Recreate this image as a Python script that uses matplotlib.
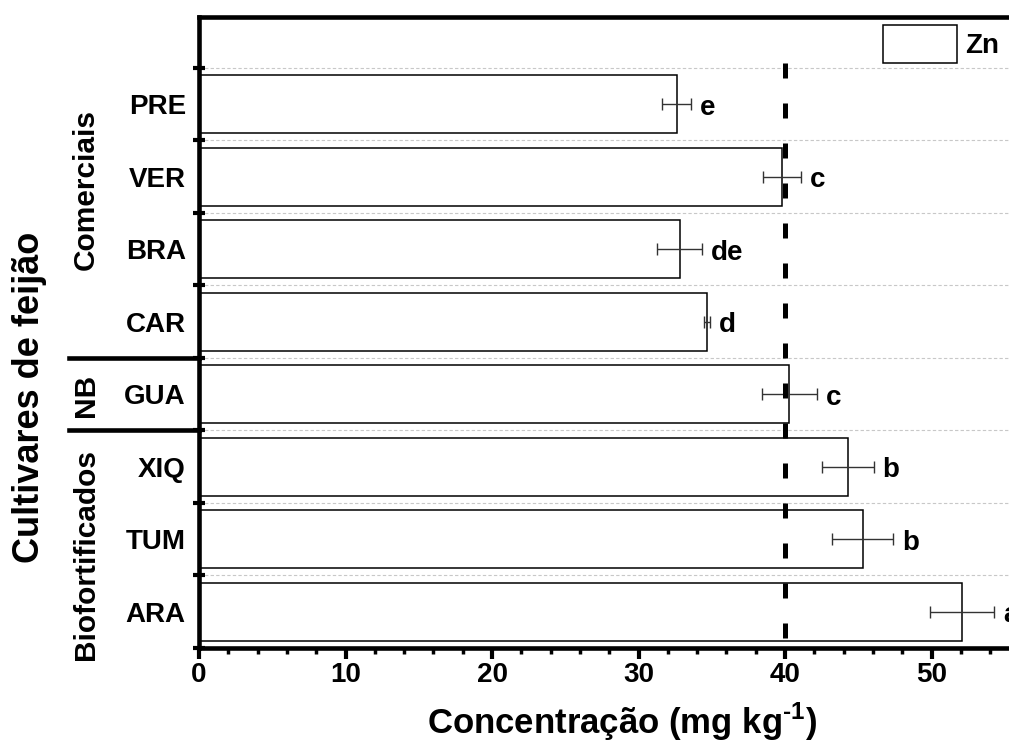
import matplotlib
matplotlib.use('Agg')
import matplotlib.pyplot as plt
from matplotlib.patches import Patch
from matplotlib.ticker import MultipleLocator, FixedLocator
import matplotlib.transforms as mtransforms
import numpy as np

plt.rcParams['font.family'] = ['Liberation Sans', 'DejaVu Sans']
plt.rcParams['font.weight'] = 'bold'
plt.rcParams['mathtext.fontset'] = 'custom'
plt.rcParams['mathtext.rm'] = 'Liberation Sans:bold'
plt.rcParams['mathtext.bf'] = 'Liberation Sans:bold'

# data (bottom to top)
cultivars = ['ARA', 'TUM', 'XIQ', 'GUA', 'CAR', 'BRA', 'VER', 'PRE']
zn_mean = [52.1, 45.3, 44.3, 40.3, 34.7, 32.8, 39.8, 32.6]
zn_err = [2.2, 2.1, 1.8, 1.9, 0.2, 1.55, 1.3, 1.0]
letters = ['a', 'b', 'b', 'c', 'd', 'de', 'c', 'e']
group_names = ['Comerciais', 'NB', 'Biofortificados']
group_bounds = [3.5, 2.5]
x_ticks = [0, 10, 20, 30, 40, 50]
reference_value = 40

W, H = 1009, 753
fig = plt.figure(figsize=(W / 100, H / 100), dpi=100)
ax = fig.add_axes([199 / W, 105 / H, 879 / W, 631 / H])

y = np.arange(len(cultivars))
ax.barh(y, zn_mean, height=0.8, color='white', edgecolor='black', linewidth=1.1, zorder=2)
ax.errorbar(zn_mean, y, xerr=zn_err, fmt='none', ecolor='#333333', elinewidth=1,
            capsize=4.6, capthick=1, zorder=3)
for m, e, yi, lt in zip(zn_mean, zn_err, y, letters):
    ax.annotate(lt, (m + e, yi), xytext=(6, -2.5), textcoords='offset points',
                va='center', ha='left', fontsize=20, fontweight='bold',
                annotation_clip=False, zorder=5)

ax.plot([reference_value, reference_value], [-0.5, 7.6], color='black', lw=3.6,
        linestyle=(6, (3, 5)), zorder=4, solid_capstyle='butt', dash_capstyle='butt')

ax.set_xlim(0, 60)
ax.set_ylim(-0.5, 8.2)
ax.set_yticks(y)
ax.set_yticklabels(cultivars)
ax.yaxis.set_minor_locator(FixedLocator(np.arange(-0.5, 8, 1)))
ax.grid(axis='y', which='minor', color='#c8c8c8', linestyle=(0, (3, 2)), lw=0.8, zorder=0)
ax.set_axisbelow(True)
ax.tick_params(axis='y', which='major', length=0, pad=9.5, labelsize=20)
ax.tick_params(axis='y', which='minor', direction='inout', length=9, width=3)
ax.xaxis.set_major_locator(FixedLocator(x_ticks))
ax.xaxis.set_minor_locator(MultipleLocator(2))
ax.tick_params(axis='x', which='major', direction='out', length=8, width=3, pad=2, labelsize=20)
ax.tick_params(axis='x', which='minor', direction='out', length=4.5, width=2.5)
for s in ['left', 'bottom', 'top']:
    ax.spines[s].set_linewidth(3.3)
ax.spines['right'].set_visible(False)

# group separators
trans = mtransforms.blended_transform_factory(fig.transFigure, ax.transData)
for b in group_bounds:
    ax.plot([69 / W, 199 / W], [b, b], transform=trans, color='black', lw=3.3, clip_on=False)

group_pos = [190, 395, 554]
for name, py in zip(group_names, group_pos):
    fig.text(86 / W, 1 - py / H, name, rotation=90, ha='center', va='center',
             fontsize=21.5, fontweight='bold')

fig.text(30 / W, 1 - 397 / H, 'Cultivares de feijão', rotation=90, ha='center', va='center',
         fontsize=26, fontweight='bold')
fig.text(622 / W, 1 - 722 / H, r'Concentração (mg kg$^{\text{-1}}$)', ha='center', va='center',
         fontsize=25, fontweight='bold')

fig.legend(handles=[Patch(facecolor='white', edgecolor='black', lw=1.1, label='Zn')],
           loc='upper left', bbox_to_anchor=(883 / W, 1 - 25 / H), frameon=False,
           prop={'size': 20, 'weight': 'bold'}, handlelength=2.65, handleheight=1.7,
           handletextpad=0.3, borderpad=0, borderaxespad=0)

fig.savefig('out.png', dpi=100)
